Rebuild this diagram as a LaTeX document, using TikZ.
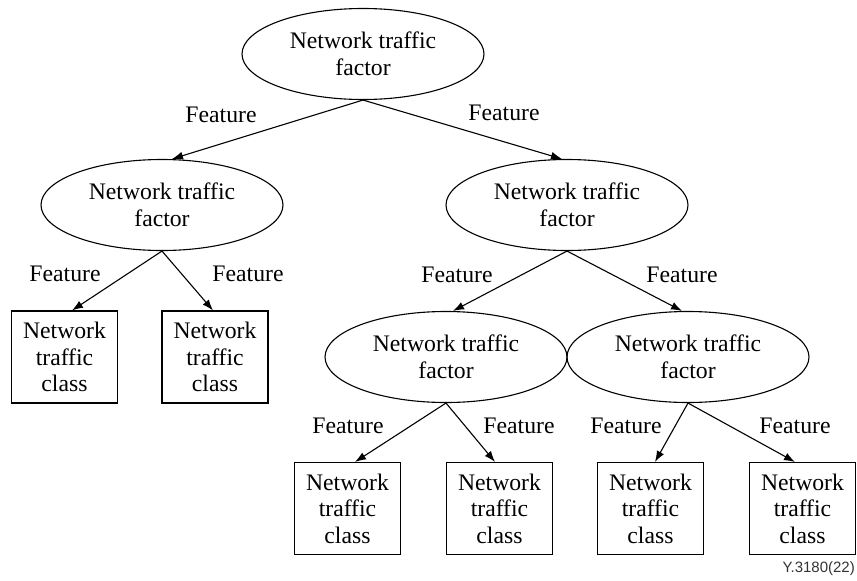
\documentclass[tikz,border=0pt]{standalone}
\usepackage{fontspec}
\setmainfont{Liberation Serif}
\newfontfamily\figsans{Liberation Sans}
\usetikzlibrary{shapes.geometric,arrows.meta,calc}
\begin{document}
\begin{tikzpicture}[x=1pt,y=-1pt,
  txt/.style={font=\fontsize{23.7}{26.5}\selectfont},
  factor/.style={txt,ellipse,draw,line width=1.1pt,minimum width=242pt,
    minimum height=91pt,inner sep=0pt,align=center},
  classbox/.style={txt,rectangle,draw,line width=1.1pt,minimum width=106pt,
    minimum height=92pt,inner sep=0pt,align=center},
  feat/.style={txt,inner sep=0pt},
  edge/.style={line width=1.1pt,-{Latex[length=11pt,width=8pt]}}]
\useasboundingbox (0,0) rectangle (857,581);

% factor nodes
\node[factor] (top) at (363,54)  {Network traffic\\factor};
\node[factor] (fl)  at (162,205) {Network traffic\\factor};
\node[factor] (fr)  at (567,205) {Network traffic\\factor};
\node[factor] (frl) at (446,357) {Network traffic\\factor};
\node[factor] (frr) at (688,357) {Network traffic\\factor};

% class leaves
\node[classbox] (c1) at (64.5,357)  {Network\\traffic\\class};
\node[classbox] (c2) at (215,357)   {Network\\traffic\\class};
\node[classbox] (c3) at (347.5,508.5) {Network\\traffic\\class};
\node[classbox] (c4) at (499.5,508.5) {Network\\traffic\\class};
\node[classbox] (c5) at (650.5,508.5) {Network\\traffic\\class};
\node[classbox] (c6) at (802.5,508.5) {Network\\traffic\\class};

% edges
\draw[edge] (top.south) -- ($(fl.north)+(10,0)$);
\draw[edge] (top.south) -- ($(fr.north)+(-5,0)$);
\draw[edge] (fl.south) -- ($(c1.north)+(7.5,0)$);
\draw[edge] (fl.south) -- ($(c2.north)+(-2,0)$);
\draw[edge] (fr.south) -- ($(frl.north)+(7,0)$);
\draw[edge] (fr.south) -- ($(frr.north)+(-6,0)$);
\draw[edge] (frl.south) -- ($(c3.north)+(7.5,0)$);
\draw[edge] (frl.south) -- ($(c4.north)+(-4.5,0)$);
\draw[edge] (frr.south) -- ($(c5.north)+(4.5,0)$);
\draw[edge] (frr.south) -- ($(c6.north)+(-7.5,0)$);

% edge labels
\node[feat] (e1)  at (221,115) {Feature};
\node[feat] (e2)  at (504,113) {Feature};
\node[feat] (e3)  at (65,274)  {Feature};
\node[feat] (e4)  at (248,274) {Feature};
\node[feat] (e5)  at (457,275) {Feature};
\node[feat] (e6)  at (682,275) {Feature};
\node[feat] (e7)  at (348,426) {Feature};
\node[feat] (e8)  at (519,426) {Feature};
\node[feat] (e9)  at (626,426) {Feature};
\node[feat] (e10) at (795,426) {Feature};

% figure reference
\node[anchor=base east,inner sep=0pt,text=black!80,
  font=\figsans\fontsize{15}{18}\selectfont] (ref) at (855,572) {Y.3180(22)};
\end{tikzpicture}
\end{document}
